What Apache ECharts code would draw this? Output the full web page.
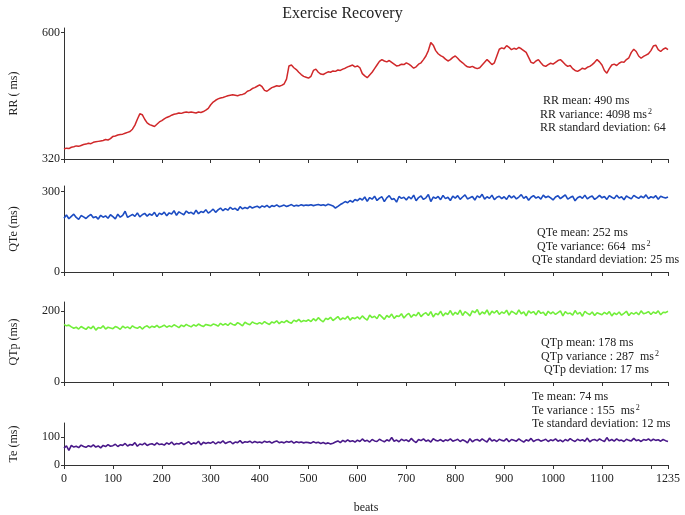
<!DOCTYPE html>
<html><head><meta charset="utf-8">
<script src="https://cdn.jsdelivr.net/npm/echarts@6/dist/echarts.min.js"></script>
<style>html,body{margin:0;padding:0;background:#fff}#c{width:685px;height:515px}</style>
</head><body><div id="c"></div>
<script>
// sampling step in beats (values read every 5 beats, 0..1235)
const beatStep = 5;
const xTickValues = [0,100,200,300,400,500,600,700,800,900,1000,1100,1200,1235];
const xLabelValues = [0,100,200,300,400,500,600,700,800,900,1000,1100,1235];

const rrValues = [
342,344,343,346,347,349,348,350,352,353,355,354,357,358,359,360,361,363,362,365,
370,371,373,374,375,377,379,381,386,395,408,420,418,408,400,396,394,392,397,402,
405,409,412,414,417,419,420,422,421,423,424,423,424,423,422,424,423,425,428,432,
440,446,450,453,455,456,458,460,461,462,461,460,462,463,465,470,472,476,478,481,
484,480,472,470,474,478,480,482,481,483,486,497,526,528,522,518,512,507,503,501,
499,503,516,519,512,508,507,510,513,512,515,514,517,516,519,521,524,526,528,524,
526,522,509,504,500,506,512,520,528,536,540,537,535,538,534,530,526,527,530,529,
533,530,526,521,524,530,533,540,548,560,578,572,560,553,549,546,541,537,540,545,
548,543,537,533,528,524,523,525,522,520,522,528,534,540,535,529,533,548,563,566,
564,571,567,562,565,563,567,564,560,556,545,534,532,537,540,533,527,525,529,532,
530,534,538,540,535,529,525,527,520,516,514,517,521,519,523,525,529,534,540,535,
528,516,510,520,528,530,527,532,535,534,540,544,556,563,558,548,543,547,550,553,
560,570,572,562,558,563,566,562
];
const qteValues = [
200,212,198,207,215,203,196,210,205,199,208,214,202,206,197,211,204,209,200,213,
206,198,215,204,211,226,203,209,214,207,220,205,213,218,208,216,211,222,206,219,
214,223,209,220,216,228,211,224,218,213,227,219,222,215,230,217,225,221,232,219,
226,234,222,231,238,228,236,230,241,233,237,229,243,235,240,236,244,238,242,245,
239,246,242,248,240,247,244,250,243,246,249,244,247,251,245,248,246,250,247,249,
248,250,247,249,251,248,250,247,252,249,246,238,244,251,256,262,258,266,260,270,
265,274,268,279,263,277,271,282,266,275,280,262,276,284,270,273,260,281,274,278,
268,280,272,286,265,277,283,270,276,288,262,279,274,281,269,285,273,278,266,282,
275,284,270,279,287,272,276,281,268,283,277,289,271,280,274,286,269,278,282,273,
280,270,285,276,283,272,279,288,274,281,267,278,284,275,280,271,286,277,282,276,
268,279,284,273,280,287,271,277,282,265,276,281,274,286,272,279,283,270,277,285,
276,281,270,284,278,273,286,275,280,269,283,277,272,285,279,274,282,276,287,273,
280,276,284,271,282,278,275,279
];
const qtpValues = [
162,158,160,155,151,154,149,156,152,148,155,150,157,146,153,151,158,149,154,152,
150,156,153,148,157,152,155,150,158,153,151,156,149,155,158,152,157,154,159,153,
156,160,154,158,155,161,157,153,160,156,162,158,155,161,157,163,159,156,162,160,
158,163,161,157,165,160,164,159,166,162,160,167,163,158,168,164,161,169,165,163,
167,163,170,165,162,169,166,172,164,170,167,173,168,165,174,170,176,169,173,171,
175,170,178,172,181,174,169,179,176,182,173,178,184,175,180,177,185,174,181,178,
183,177,186,179,174,188,181,185,178,190,183,176,187,182,191,179,186,184,192,180,
188,193,182,190,186,196,184,191,195,187,198,183,193,189,199,186,194,190,201,188,
196,190,202,187,198,193,186,200,195,204,189,197,192,203,188,199,194,201,190,197,
193,202,188,199,195,190,203,192,197,186,200,194,198,189,201,193,196,187,199,192,
197,190,195,200,186,198,192,194,188,201,191,196,185,199,193,190,197,187,195,192,
189,196,191,198,186,194,190,197,188,193,199,187,195,191,196,189,200,192,194,198,
190,197,193,200,189,196,195,199
];
const teValues = [
60,68,52,70,64,67,62,71,66,63,69,65,72,64,68,61,70,66,73,67,
69,74,66,72,70,77,68,73,71,80,67,75,72,78,70,74,76,71,79,73,
75,71,79,74,82,72,77,75,80,73,78,83,74,79,76,85,72,81,77,80,
78,83,75,82,79,86,77,81,84,76,82,80,87,78,83,81,85,79,84,80,
82,79,85,81,84,78,83,86,80,82,79,84,81,85,78,83,80,82,79,81,
80,78,83,79,81,77,80,76,79,75,78,82,86,80,88,83,90,84,87,82,
89,84,93,85,88,82,91,86,84,92,87,83,90,86,98,85,89,83,92,87,
90,84,95,86,80,91,87,93,85,89,82,94,88,86,91,84,90,87,93,85,
88,92,84,90,86,79,94,83,89,91,85,93,87,82,96,86,90,84,92,88,
86,94,83,91,88,85,93,87,82,90,86,95,84,89,91,85,88,92,84,90,
87,93,85,89,83,91,86,94,88,84,92,87,90,85,96,83,89,91,86,93,
88,84,98,86,91,85,93,87,89,84,92,88,86,95,87,90,84,91,88,93,
86,92,88,90,85,91,87,84
];

const panelNames = ['RR ( ms)', 'QTe (ms)', 'QTp (ms)', 'Te (ms)'];
const panelMin = [320, 0, 0, 0];
const panelMax = [610, 320, 225, 150];
const yLabelValues = [[320, 600], [0, 300], [0, 200], [0, 100]];
const seriesColors = ['#d0282a', '#1c4cc2', '#72ee3a', '#4a1a8a'];

const statTexts = [
  ['RR mean: 490 ms', 'RR variance: 4098 ms', 'RR standard deviation: 64'],
  ['QTe mean: 252 ms', 'QTe variance: 664  ms', 'QTe standard deviation: 25 ms'],
  ['QTp mean: 178 ms', 'QTp variance : 287  ms', 'QTp deviation: 17 ms'],
  ['Te mean: 74 ms', 'Te variance : 155  ms', 'Te standard deviation: 12 ms']
];

const FONT = '"Liberation Serif","Times New Roman",serif';
const grids = [
  {left: 62, right: 17, top: 28, height: 131},
  {left: 62, right: 17, top: 186, height: 86},
  {left: 62, right: 17, top: 302, height: 80},
  {left: 62, right: 17, top: 423, height: 45}
];
const allValues = [rrValues, qteValues, qtpValues, teValues];

const xAxes = grids.map((g, i) => ({
  type: 'value', gridIndex: i, min: 0, max: 1235,
  axisLine: {show: true, lineStyle: {color: '#333', width: 1}},
  axisTick: {show: true, length: 4, customValues: xTickValues, lineStyle: {color: '#333'}},
  axisLabel: {show: i === 3, customValues: xLabelValues, formatter: v => String(v),
    color: '#222', fontFamily: FONT, fontSize: 12, margin: 8},
  splitLine: {show: false},
  name: i === 3 ? 'beats' : '', nameLocation: 'middle', nameGap: 37,
  nameTextStyle: {color: '#222', fontFamily: FONT, fontSize: 12}
}));
const yAxes = grids.map((g, i) => ({
  type: 'value', gridIndex: i, min: panelMin[i], max: panelMax[i],
  axisLine: {show: true, lineStyle: {color: '#333', width: 1}},
  axisTick: {show: true, length: 3, customValues: yLabelValues[i], lineStyle: {color: '#333'}},
  axisLabel: {customValues: yLabelValues[i], formatter: v => String(v),
    color: '#222', fontFamily: FONT, fontSize: 12, margin: 4},
  splitLine: {show: false},
  name: panelNames[i], nameLocation: 'middle', nameGap: 44, nameRotate: 90,
  nameTextStyle: {color: '#222', fontFamily: FONT, fontSize: 12}
}));
const series = allValues.map((vals, i) => ({
  type: 'line', xAxisIndex: i, yAxisIndex: i, showSymbol: false, symbol: 'none',
  lineStyle: {color: seriesColors[i], width: i === 0 ? 1.5 : 1.6},
  itemStyle: {color: seriesColors[i]},
  data: vals.map((v, k) => [k * beatStep, v])
}));

const statPos = [
  [[543, 95], [540, 108], [540, 122]],
  [[537, 227], [537, 240], [532, 254]],
  [[541, 337], [541, 350], [544, 364]],
  [[532, 391], [532, 404], [532, 418]]
];
const graphics = [];
statTexts.forEach((lines, i) => {
  lines.forEach((t, j) => {
    const isVar = j === 1;
    graphics.push({
      type: 'text', left: statPos[i][j][0], top: statPos[i][j][1],
      style: {
        text: isVar ? '{a|' + t + '}{s|2}' : '{a|' + t + '}',
        rich: {
          a: {fontFamily: FONT, fontSize: 12, fill: '#222', lineHeight: 14},
          s: {fontFamily: FONT, fontSize: 8, fill: '#222', verticalAlign: 'top', lineHeight: 14, padding: [0, 0, 10, 1]}
        }
      }
    });
  });
});

const chart = echarts.init(document.getElementById('c'), null, {renderer: 'canvas'});
chart.setOption({
  animation: false,
  backgroundColor: '#fff',
  title: {text: 'Exercise Recovery', left: 'center', top: 1,
    textStyle: {fontFamily: FONT, fontSize: 16, fontWeight: 'normal', color: '#222'}},
  grid: grids,
  xAxis: xAxes,
  yAxis: yAxes,
  series: series,
  graphic: graphics
});
</script></body></html>
